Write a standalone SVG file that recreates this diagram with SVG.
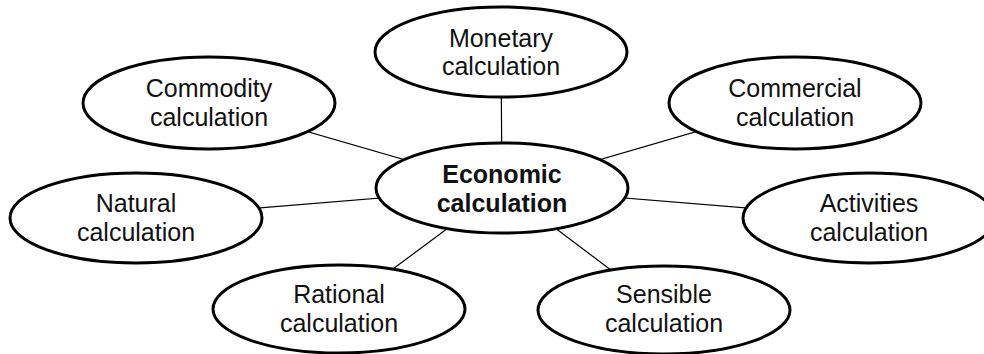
<svg xmlns="http://www.w3.org/2000/svg" width="984" height="354" viewBox="0 0 984 354">
<style>
.node ellipse{fill:#fff;stroke:#000;stroke-width:3}
.node text{font-family:"Liberation Sans",Arial,sans-serif;font-size:25px;fill:#111;text-anchor:middle}
.node.center text{font-weight:bold}
.edges line{stroke:#000;stroke-width:1.2}
</style>
<rect width="984" height="354" fill="#fff"/>
<g class="edges">
<line x1="502" y1="188" x2="501" y2="52"/>
<line x1="502" y1="188" x2="209" y2="103"/>
<line x1="502" y1="188" x2="795" y2="103"/>
<line x1="502" y1="188" x2="136" y2="218"/>
<line x1="502" y1="188" x2="869" y2="218"/>
<line x1="502" y1="188" x2="339" y2="309"/>
<line x1="502" y1="188" x2="664" y2="310"/>
</g>
<g id="monetary" class="node"><ellipse cx="501" cy="52" rx="126" ry="45"/><text x="501" y="47">Monetary</text><text x="501" y="75">calculation</text></g>
<g id="commodity" class="node"><ellipse cx="209" cy="103" rx="126" ry="46"/><text x="209" y="97">Commodity</text><text x="209" y="126">calculation</text></g>
<g id="commercial" class="node"><ellipse cx="795" cy="103" rx="126" ry="46"/><text x="795" y="97">Commercial</text><text x="795" y="126">calculation</text></g>
<g id="natural" class="node"><ellipse cx="136" cy="218" rx="126" ry="45"/><text x="136" y="212">Natural</text><text x="136" y="241">calculation</text></g>
<g id="activities" class="node"><ellipse cx="869" cy="218" rx="126" ry="45"/><text x="869" y="212">Activities</text><text x="869" y="241">calculation</text></g>
<g id="rational" class="node"><ellipse cx="339" cy="309" rx="126" ry="44"/><text x="339" y="303">Rational</text><text x="339" y="332">calculation</text></g>
<g id="sensible" class="node"><ellipse cx="664" cy="310" rx="126" ry="44"/><text x="664" y="303">Sensible</text><text x="664" y="332">calculation</text></g>
<g id="economic" class="node center"><ellipse cx="502" cy="188" rx="126" ry="45"/><text x="502" y="183">Economic</text><text x="502" y="212">calculation</text></g>
</svg>
